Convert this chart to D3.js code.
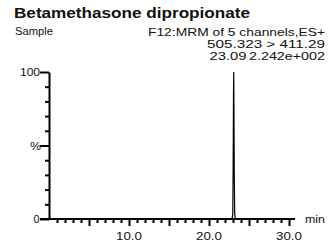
<!DOCTYPE html>
<html>
<head>
<meta charset="utf-8">
<script src="https://cdn.jsdelivr.net/npm/d3@7"></script>
<style>
  body { margin: 0; background: #fff; }
  svg text { font-family: "Liberation Sans", Arial, sans-serif; fill: #111; }
</style>
</head>
<body>
<svg id="chrom" width="334" height="248"></svg>
<script>
// chromatogram trace (time in min, relative intensity %)
const times = [0, 22.88, 22.97, 23.02, 23.06, 23.09, 23.12, 23.16, 23.21, 23.30, 30.75];
const intensity = [0, 0, 3, 35, 82, 100, 72, 30, 4, 0, 0];

const xTicks = d3.range(1, 31);          // every minute
const xLabels = [10, 20, 30];
const yTicks = d3.range(0, 101, 10);
const yLabels = new Map([[0, "0"], [50, "%"], [100, "100"]]);

const headerLines = ["F12:MRM of 5 channels,ES+", "505.323 > 411.29", "2.242e+002"];
const peakTime = "23.09";

const svg = d3.select("#chrom");

// scales
const x = d3.scaleLinear().domain([0, 30.75]).range([49, 295]);
const y = d3.scaleLinear().domain([0, 100]).range([219, 72]);

// helper: text squeezed / stretched to the width seen in the picture
function label(px, py, t, size, width, anchor) {
    const el = svg.append("text")
        .attr("x", px).attr("y", py)
        .attr("text-anchor", anchor || "start")
        .style("font-size", size + "px")
        .text(t);
    if (width) el.attr("textLength", width).attr("lengthAdjust", "spacingAndGlyphs");
    return el;
}

// titles
label(14, 18, "Betamethasone dipropionate", 15, 236).style("font-weight", "bold");
label(15, 35, "Sample", 10.5, 38);

label(325, 36, headerLines[0], 11, 177, "end");
label(325, 48, headerLines[1], 11, 118, "end");
label(325, 59.5, headerLines[2], 11, 76, "end");
label(228, 59.5, peakTime, 11, 37, "middle");

// x axis (tick every minute, longer every 5)
const xAxis = d3.axisBottom(x)
    .tickValues(xTicks)
    .tickSize(4)
    .tickSizeOuter(0)
    .tickFormat(() => "");
const gx = svg.append("g")
    .attr("transform", `translate(0,${y(0)})`)
    .call(xAxis);
gx.select(".domain").attr("d", `M${x.range()[0] - 9},0H${x.range()[1]}`);
gx.selectAll(".tick line").attr("y2", d => d % 5 === 0 ? 7 : 4);
gx.selectAll("path, line").attr("stroke", "#000").attr("stroke-width", 2);

xLabels.forEach(v => label(x(v), 240, d3.format(".1f")(v), 11, 26, "middle"));
label(305, 223, "min", 11, 20);

// y axis (tick every 10 %)
const yAxis = d3.axisLeft(y)
    .tickValues(yTicks)
    .tickSize(4)
    .tickSizeOuter(0)
    .tickFormat(() => "");
const gy = svg.append("g")
    .attr("transform", `translate(${x(0)},0)`)
    .call(yAxis);
gy.selectAll(".tick line").attr("x2", d => yLabels.has(d) ? -9 : -4);
gy.selectAll("path, line").attr("stroke", "#000").attr("stroke-width", 2);

label(40, y(100) + 4, yLabels.get(100), 11, 20, "end");
label(41, y(50) + 4, yLabels.get(50), 11, 11, "end");
label(39.5, y(0) + 4, yLabels.get(0), 11, 6, "end");

// trace
const line = d3.line()
    .x((d, i) => x(times[i]))
    .y(d => y(d));

svg.append("path")
    .datum(intensity)
    .attr("fill", "none")
    .attr("stroke", "#000")
    .attr("stroke-width", 1.2)
    .attr("d", line);
</script>
</body>
</html>
